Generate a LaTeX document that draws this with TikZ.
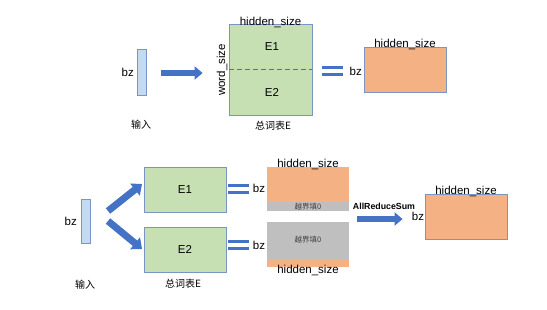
\documentclass[tikz,border=0pt]{standalone}
\usepackage{fontspec}
\setmainfont{Liberation Sans}
\newfontfamily\cjk{Noto Sans CJK SC}
\usetikzlibrary{arrows.meta}
\definecolor{gfill}{HTML}{C6E0B4}
\definecolor{ofill}{HTML}{F4B183}
\definecolor{grfill}{HTML}{BFBFBF}
\definecolor{bfill}{HTML}{C5DAF0}
\definecolor{bline}{HTML}{7A95C4}
\definecolor{arr}{HTML}{4472C4}
\tikzset{
  box/.style={draw=bline, line width=0.8pt, inner sep=0pt, anchor=center},
  bar/.style={box, fill=bfill, minimum width=9pt},
  gbox/.style={box, fill=gfill, minimum width=82pt, minimum height=45pt},
  obox/.style={box, fill=ofill, minimum width=82pt, minimum height=45pt},
  txt/.style={font=\fontsize{11.5}{13}\selectfont, inner sep=0pt},
  cn/.style={font=\cjk\fontsize{10}{12}\selectfont, inner sep=0pt},
  small/.style={font=\cjk\fontsize{7.5}{9}\selectfont, inner sep=0pt, text=black!75},
  blockarrow/.style={draw=arr, line width=6pt, -{Triangle[length=8pt,width=13pt]}},
  diagarrow/.style={draw=arr, line width=7pt, -{Triangle[length=9pt,width=15pt]}},
  eqline/.style={draw=arr, line width=3pt},
}
\begin{document}
\begin{tikzpicture}[x=1pt,y=-1pt]
\useasboundingbox (0,0) rectangle (547,309);
% ---------- top ----------
\node[bar, minimum height=46pt] (in1) at (141.5,72) {};
\node[txt, anchor=east] (bz1) at (134,72) {bz};
\node[cn] (lin1) at (141,125) {输入};
\node[box, fill=gfill, minimum width=83pt, minimum height=91pt] (E) at (270.5,69.5) {};
\draw[arr, dash pattern=on 5pt off 3pt, line width=0.8pt] (E.west) -- (E.east);
\node[txt] (e1) at (272,47) {E1};
\node[txt] (e2) at (272,92) {E2};
\node[txt, anchor=south] (hs1) at ([yshift=-4pt]E.north) {hidden\_size};
\node[txt, rotate=90] (ws) at (222,70) {word\_size};
\node[cn] (lE1) at (273,126) {总词表E};
\draw[blockarrow, shorten <=15pt, shorten >=26pt] (in1.east|-0,73) coordinate (a1s) -- (E.west|-0,73) coordinate (a1e);
\draw[eqline] (322,67) -- (343,67);
\draw[eqline] (322,74) -- (343,74);
\node[obox] (O1) at (405,69.5) {};
\node[txt, anchor=east] (bz2) at (362,71) {bz};
\node[txt, anchor=south] (hs2) at ([yshift=-3pt]O1.north) {hidden\_size};
% ---------- bottom ----------
\node[bar, minimum height=44pt] (in2) at (85.5,221) {};
\node[txt, anchor=east] (bz3) at (77,221) {bz};
\node[cn] (lin2) at (85,285) {输入};
\node[gbox] (E1b) at (185,189.5) {};
\node[txt] at (E1b) {E1};
\node[gbox] (E2b) at (185,249.5) {};
\node[txt] at (E2b) {E2};
\node[cn] (lE2) at (183,284) {总词表E};
\coordinate (d1s) at (108,211);
\coordinate (d1e) at (142,184);
\coordinate (d2s) at (108,221);
\coordinate (d2e) at (142,249);
\draw[diagarrow] (d1s) -- (d1e);
\draw[diagarrow] (d2s) -- (d2e);
\draw[eqline] (228,185) -- (249,185);
\draw[eqline] (228,192) -- (249,192);
\draw[eqline] (228,241) -- (249,241);
\draw[eqline] (228,248) -- (249,248);
\node[txt] (bz4) at (259,188) {bz};
\node[txt] (bz5) at (259,245) {bz};
% upper split box
\fill[ofill] (267,167) rectangle (349,202);
\fill[grfill] (267,202) rectangle (349,211);
\node[inner sep=0pt, minimum width=82pt, minimum height=44pt] (S1) at (308,189) {};
\node[small] at (308,206.8) {越界填0};
\node[txt, anchor=south] (hs3) at ([yshift=-3pt]S1.north) {hidden\_size};
% lower split box
\fill[grfill] (267,222) rectangle (349,259);
\fill[ofill] (267,259) rectangle (349,267);
\node[inner sep=0pt, minimum width=82pt, minimum height=45pt] (S2) at (308,244.5) {};
\node[small] at (308,240) {越界填0};
\node[txt, anchor=north] (hs4) at ([yshift=2pt]S2.south) {hidden\_size};
% reduce
\node[obox] (O2) at (466,216.5) {};
\node[font=\bfseries\fontsize{8.8}{10}\selectfont, inner sep=0pt] (ars) at (384,206) {AllReduceSum};
\draw[blockarrow, shorten <=8pt, shorten >=22pt] (S2.east|-0,219) -- (O2.west|-0,219);
\node[txt] (bz6) at (418,216) {bz};
\node[txt, anchor=south] (hs5) at ([yshift=-3pt]O2.north) {hidden\_size};
\end{tikzpicture}
\end{document}
